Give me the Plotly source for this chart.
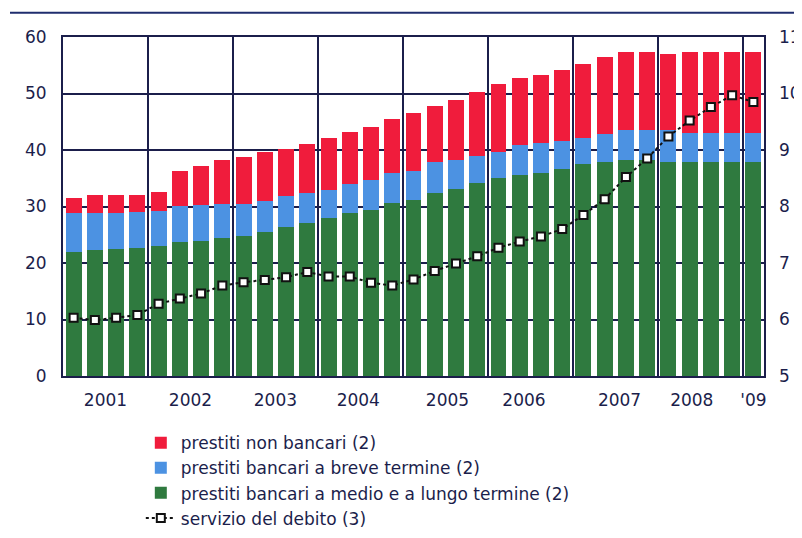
import plotly.graph_objects as go

# quarterly observations, 2001 Q1 .. 2009 Q1
quarters = [f"{y} T{q}" for y in range(2001, 2009) for q in range(1, 5)] + ["2009 T1"]

medio_lungo = [22.0, 22.3, 22.4, 22.6, 23.0, 23.8, 23.9, 24.4, 24.8, 25.5, 26.4,
               27.0, 27.9, 28.8, 29.4, 30.6, 31.2, 32.4, 33.1, 34.2, 35.0, 35.5,
               36.0, 36.6, 37.5, 37.8, 38.3, 38.3, 37.9, 37.8, 37.8, 37.9, 37.9]
breve = [6.8, 6.5, 6.4, 6.5, 6.2, 6.3, 6.4, 6.0, 5.7, 5.5, 5.5, 5.4, 5.1, 5.2,
         5.3, 5.4, 5.1, 5.4, 5.2, 4.7, 4.7, 5.3, 5.2, 5.0, 4.7, 5.0, 5.2, 5.2,
         5.6, 5.2, 5.2, 5.1, 5.1]
non_bancari = [2.7, 3.2, 3.2, 2.9, 3.3, 6.2, 6.9, 7.8, 8.2, 8.6, 8.2, 8.7, 9.1,
               9.1, 9.3, 9.5, 10.2, 10.0, 10.5, 11.3, 12.0, 11.9, 12.0, 12.5,
               13.0, 13.7, 13.9, 13.9, 13.5, 14.4, 14.4, 14.4, 14.4]
servizio = [6.03, 5.99, 6.03, 6.08, 6.28, 6.37, 6.46, 6.60, 6.66, 6.70, 6.75,
            6.84, 6.76, 6.76, 6.65, 6.60, 6.71, 6.86, 6.99, 7.12, 7.27, 7.38,
            7.47, 7.60, 7.85, 8.13, 8.52, 8.85, 9.24, 9.52, 9.76, 9.97, 9.85]

year_labels = ["2001", "2002", "2003", "2004", "2005", "2006", "2007", "2008", "'09"]
year_label_pos = [1.5, 5.5, 9.5, 13.4, 17.6, 21.2, 25.7, 29.1, 32.0]

NAVY = "#1b1e4b"
FONT = "DejaVu Sans"

x = list(range(len(quarters)))
year_bounds = [i - 0.5 for i in x[4::4]]

fig = go.Figure()
fig.add_trace(go.Bar(x=x, y=medio_lungo, name="prestiti bancari a medio e a lungo termine (2)",
                     marker_color="#2f7a3f", marker_line_width=0, legendrank=3,
                     hovertext=quarters))
fig.add_trace(go.Bar(x=x, y=breve, name="prestiti bancari a breve termine (2)",
                     marker_color="#4c92e2", marker_line_width=0, legendrank=2,
                     hovertext=quarters))
fig.add_trace(go.Bar(x=x, y=non_bancari, name="prestiti non bancari (2)",
                     marker_color="#f01c3c", marker_line_width=0, legendrank=1,
                     hovertext=quarters))
fig.add_trace(go.Scatter(x=x, y=servizio, name="servizio del debito (3)", yaxis="y2",
                         mode="lines+markers", legendrank=4, hovertext=quarters,
                         line=dict(color="#111111", width=2, dash="dot"),
                         marker=dict(symbol="square", size=8, color="white",
                                     line=dict(color="#111111", width=2))))

# page body adds an 8px margin, so the figure is sized to fit inside the window
fig.update_layout(
    width=794, height=530,
    margin=dict(l=55, r=38, t=29, b=162),
    paper_bgcolor="white", plot_bgcolor="white",
    barmode="stack", bargap=0.25,
    font=dict(family=FONT, size=17, color=NAVY),
    showlegend=True,
    legend=dict(x=0.111, y=0.213, yref="container", xanchor="left", yanchor="top",
                traceorder="normal", bgcolor="rgba(0,0,0,0)",
                font=dict(size=17, color=NAVY)),
    xaxis=dict(range=[-0.5, 32.5], tickmode="array", tickvals=year_label_pos,
               ticktext=year_labels, showgrid=False, ticks="", ticklabelstandoff=8,
               automargin=False,
               zeroline=False, showline=True, linecolor=NAVY, linewidth=2, mirror=True,
               minor=dict(tickmode="array", tickvals=year_bounds, showgrid=True,
                          gridcolor=NAVY, gridwidth=2, ticks="")),
    yaxis=dict(range=[0, 60], tickvals=[0, 10, 20, 30, 40, 50, 60], showgrid=True,
               gridcolor=NAVY, gridwidth=2, zeroline=False, ticks="", automargin=False,
               ticklabelstandoff=11, showline=True, linecolor=NAVY, linewidth=2,
               mirror=True),
    yaxis2=dict(range=[5, 11], tickvals=[5, 6, 7, 8, 9, 10, 11], overlaying="y",
                side="right", showgrid=False, zeroline=False, ticks="",
                automargin=False, ticklabelstandoff=14),
    shapes=[dict(type="line", xref="paper", yref="paper", x0=-0.0756, x1=1.054,
                 y0=1.0717, y1=1.0717, line=dict(color="#1f2d6e", width=2))],
)

fig.write_html("out.html")
